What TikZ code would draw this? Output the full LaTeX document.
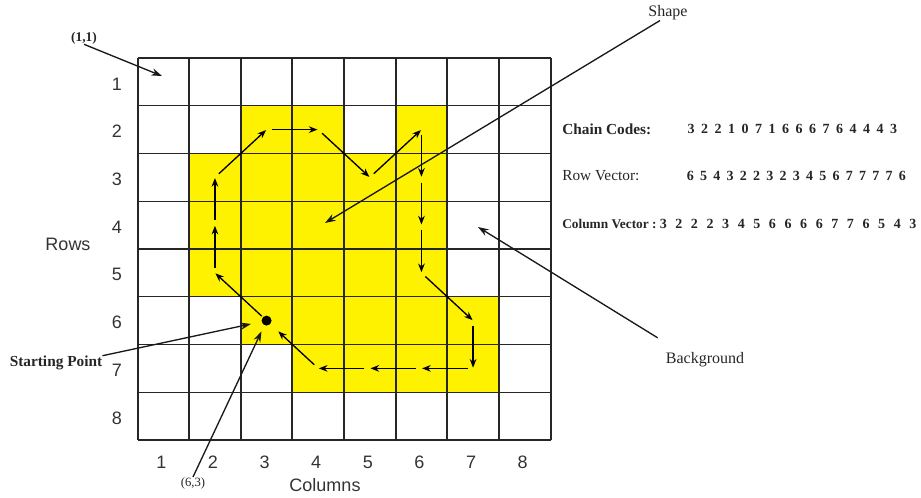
\documentclass[tikz,border=0pt]{standalone}
\usepackage{fontspec}
\setmainfont{Liberation Serif}
\newfontfamily\arialf{Liberation Sans}
\usetikzlibrary{arrows.meta}
\newcommand\digitrow[2]{\foreach \dd in {#2}{\makebox[#1]{\dd}}}
\begin{document}
\begin{tikzpicture}[x=0.75pt,y=-0.75pt,
  gridv/.style={line width=1.5pt, black!85},
  gridh/.style={line width=1.0pt, black!85},
  cellfill/.style={fill=yellow, draw=none},
  chain/.style={line width=1pt, -{Stealth[length=6.5pt,width=5pt]}, shorten <=4pt, shorten >=0.5pt},
  pointer/.style={line width=1pt, black!90, -{Stealth[length=8pt,width=5.5pt]}},
  numlab/.style={font=\arialf\fontsize{13.5}{15}\selectfont, text=black!80, inner sep=0pt},
  seriflab/.style={font=\fontsize{12}{14}\selectfont, text=black!85, inner sep=0pt},
  serifbold/.style={font=\bfseries\fontsize{11.5}{13}\selectfont, text=black!85, inner sep=0pt},
  digits/.style={font=\bfseries\fontsize{10.5}{12}\selectfont, text=black!85, inner sep=0pt, anchor=west}]
\useasboundingbox (0,0) rectangle (921,498);
% yellow shape, cell by cell (row/column)
\foreach \rr/\cc in {2/3,2/4,2/6,
                     3/2,3/3,3/4,3/5,3/6,
                     4/2,4/3,4/4,4/5,4/6,
                     5/2,5/3,5/4,5/5,5/6,
                     6/3,6/4,6/5,6/6,6/7,
                     7/4,7/5,7/6,7/7}
  \path[cellfill] ({137.5+51.625*(\cc-1)},{58+47.75*(\rr-1)}) rectangle ({137.5+51.625*\cc},{58+47.75*\rr});
% grid
\foreach \i in {0,...,8} {
  \draw[gridh] (137.5,{58+47.75*\i}) -- (550.5,{58+47.75*\i});
}
\foreach \i in {0,...,8} {
  \draw[gridv] ({137.5+51.625*\i},58) -- ({137.5+51.625*\i},440);
}
% cell centres
\foreach \r in {1,...,8} {
  \foreach \c in {1,...,8} {
    \coordinate (p\r\c) at ({137.5+51.625*(\c-0.5)},{58+47.75*(\r-0.5)});
  }
}
% row / column numbers
\foreach \r in {1,...,8}
  \node[numlab] (row\r) at (117,{60+47.75*(\r-0.5)}) {\r};
\foreach \c in {1,...,8}
  \node[numlab] (col\c) at ({135.5+51.625*(\c-0.5)},462) {\c};
\node[numlab] (rows) at (68,244) {Rows};
\node[numlab] (columns) at (325,485) {Columns};
% starting point dot
\node[circle, fill=black, inner sep=0pt, minimum size=7.5pt] (start) at (p63) {};
% chain arrows
\draw[chain, shorten <=1pt] (start) -- (p52);
\draw[chain] (p52) -- (p42);
\draw[chain] (p42) -- (p32);
\draw[chain] (p32) -- (p23);
\draw[chain] (p23) -- (p24);
\draw[chain] (p24) -- (p35);
\draw[chain] (p35) -- (p26);
\draw[chain] (p26) -- (p36);
\draw[chain] (p36) -- (p46);
\draw[chain] (p46) -- (p56);
\draw[chain] (p56) -- (p67);
\draw[chain] (p67) -- (p77);
\draw[chain] (p77) -- (p76);
\draw[chain] (p76) -- (p75);
\draw[chain] (p75) -- (p74);
\draw[chain, shorten >=8pt] (p74) -- (start);
% labels and pointers
\node[serifbold, font=\bfseries\fontsize{10}{12}\selectfont] (oneone) at (84,38) {(1,1)};
\coordinate (oneonetip) at (162,76);
\draw[pointer] (oneone.south) -- (oneonetip);
\node[seriflab] (shape) at (668,13) {Shape};
\coordinate (shapetip) at (325,223);
\draw[pointer] ([xshift=-6pt]shape.south) -- (shapetip);
\node[seriflab] (bg) at (705,360) {Background};
\coordinate (bgtip) at (478,227);
\draw[pointer] ([xshift=-6pt,yshift=11pt]bg.north west) -- (bgtip);
\node[serifbold] (sp) at (56,363) {Starting Point};
\draw[pointer, shorten >=8pt] (sp.north east) -- (start);
\node[seriflab, font=\fontsize{9.5}{11}\selectfont] (sixthree) at (193,483) {(6,3)};
\draw[pointer, shorten >=5pt] (sixthree.north) -- (start);
% chain code texts
\node[serifbold, anchor=west] (cclab) at (562,129) {Chain Codes:};
\node[seriflab, font=\fontsize{11.5}{13}\selectfont, anchor=west] (rvlab) at (562,176) {Row Vector:};
\node[serifbold, font=\bfseries\fontsize{10}{12}\selectfont, anchor=west] (cvlab) at (562,224) {Column Vector :};
\node[digits] (ccdig) at (684.2,129) {\digitrow{10.125pt}{3,2,2,1,0,7,1,6,6,6,7,6,4,4,4,3}};
\node[digits] (rvdig) at (683.4,176) {\digitrow{9.94pt}{6,5,4,3,2,2,3,2,3,4,5,6,7,7,7,7,6}};
\node[digits] (cvdig) at (655.2,224) {\digitrow{11.7pt}{3,2,2,2,3,4,5,6,6,6,6,7,7,6,5,4,3}};
\end{tikzpicture}
\end{document}
